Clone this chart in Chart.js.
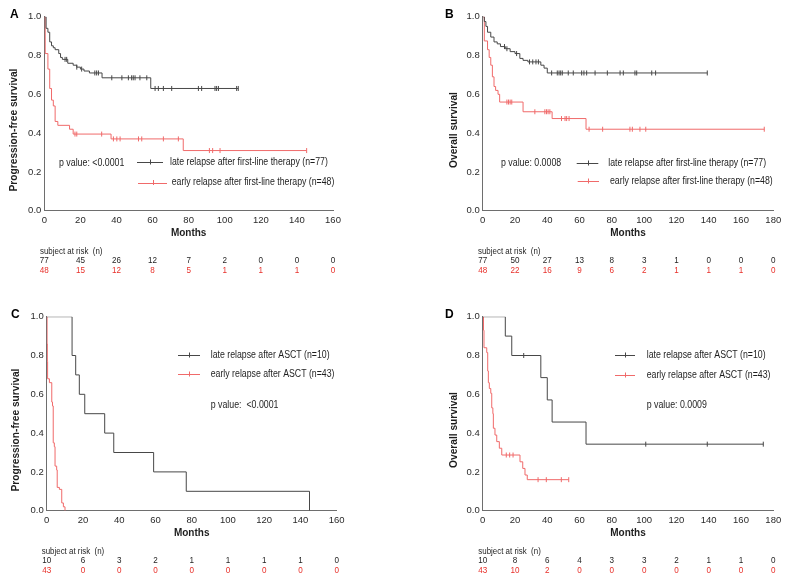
<!DOCTYPE html>
<html lang="en">
<head>
  <meta charset="UTF-8">
  <title>Survival by relapse timing</title>
  <script src="https://cdn.jsdelivr.net/npm/chart.js"></script>
  <style>
    body { margin: 0; background: #fff; }
    #wrap { position: relative; width: 790px; height: 583px; }
    canvas { position: absolute; }
  </style>
</head>
<body>
<div id="wrap">
  <canvas id="chartA" width="395" height="290" style="left:0;top:0"></canvas>
  <canvas id="chartB" width="395" height="290" style="left:395px;top:0"></canvas>
  <canvas id="chartC" width="395" height="283" style="left:0;top:300px"></canvas>
  <canvas id="chartD" width="395" height="283" style="left:395px;top:300px"></canvas>
</div>

<script>
  // x-axis ticks (months)
  const monthTicks160 = [0, 20, 40, 60, 80, 100, 120, 140, 160];
  const monthTicks180 = [0, 20, 40, 60, 80, 100, 120, 140, 160, 180];

  // A - PFS, first-line therapy
  const aLateT = [0, 1, 2, 3, 4, 5, 6, 8, 9, 10, 13, 16, 18, 20, 22, 25, 32, 59];
  const aLateS = [1, 0.94, 0.92, 0.87, 0.85, 0.84, 0.83, 0.81, 0.79, 0.78, 0.76, 0.75, 0.74, 0.73, 0.72, 0.71, 0.685, 0.63];
  const aLateCens = [11.5, 12.4, 18, 20.7, 28, 29, 30, 37.4, 43, 46.6, 48.4, 49.3, 50.3, 53, 56.8, 61.4, 63.2, 66, 70.6, 85.4, 87.2, 94.6, 95.5, 96.5, 106.6, 107.5];
  const aEarlyT = [0, 0.5, 2, 3, 4, 5, 6, 7.5, 14, 16, 37, 77];
  const aEarlyS = [1, 0.81, 0.73, 0.63, 0.57, 0.54, 0.46, 0.44, 0.42, 0.395, 0.37, 0.31];
  const aEarlyCens = [17, 18, 31.8, 38.3, 40.2, 42, 52.2, 54, 66, 74.3, 91.5, 93.3, 97.4, 145.4];
  const aRiskLate = [77, 45, 26, 12, 7, 2, 0, 0, 0];
  const aRiskEarly = [48, 15, 12, 8, 5, 1, 1, 1, 0];

  // B - OS, first-line therapy
  const bLateT = [0, 1, 2, 3, 5, 7, 9, 11, 14, 17, 20, 23, 25, 28, 36, 38, 40];
  const bLateS = [1, 0.975, 0.95, 0.92, 0.895, 0.87, 0.86, 0.846, 0.835, 0.82, 0.81, 0.785, 0.775, 0.767, 0.75, 0.735, 0.71];
  const bLateCens = [13.5, 15, 21, 29, 31, 33, 34.5, 42.7, 46.2, 47.3, 48.3, 49.3, 53, 56.1, 61.3, 62.7, 64.4, 69.6, 77.2, 85.1, 87.1, 94.3, 95.4, 104.7, 107.1, 139.1];
  const bEarlyT = [0, 1, 3, 4, 5, 6, 7, 8, 9.5, 10.5, 25, 43, 64];
  const bEarlyS = [1, 0.875, 0.83, 0.79, 0.75, 0.69, 0.64, 0.62, 0.6, 0.56, 0.51, 0.475, 0.42];
  const bEarlyCens = [15, 16, 17, 18, 32.3, 38.5, 39.5, 40.5, 41.6, 48.8, 51, 52, 53.5, 65.9, 74.3, 91.2, 92.7, 97.4, 101, 174.4];
  const bRiskLate = [77, 50, 27, 13, 8, 3, 1, 0, 0, 0];
  const bRiskEarly = [48, 22, 16, 9, 6, 2, 1, 1, 1, 0];

  // C - PFS, ASCT
  const cLateT = [0, 14, 16, 18, 21, 32, 37, 59, 77, 145];
  const cLateS = [1, 0.8, 0.7, 0.6, 0.5, 0.4, 0.3, 0.2, 0.1, 0];
  const cLateCens = [];
  const cEarlyT = [0, 0.2, 0.35, 0.5, 1.5, 2.8, 3.2, 3.6, 4.2, 4.6, 5.5, 5.8, 7, 8.3, 9.2, 10.1];
  const cEarlyS = [1, 0.86, 0.77, 0.68, 0.66, 0.56, 0.54, 0.35, 0.33, 0.23, 0.21, 0.12, 0.11, 0.04, 0.02, 0];
  const cEarlyCens = [];
  const cRiskLate = [10, 6, 3, 2, 1, 1, 1, 1, 0];
  const cRiskEarly = [43, 0, 0, 0, 0, 0, 0, 0, 0];

  // D - OS, ASCT
  const dLateT = [0, 14, 18, 36, 40, 43, 64];
  const dLateS = [1, 0.9, 0.8, 0.686, 0.571, 0.457, 0.343];
  const dLateCens = [25.4, 101, 139.1, 173.8];
  const dEarlyT = [0, 0.5, 0.8, 2.5, 3.1, 3.5, 4.1, 5, 5.6, 6.3, 6.6, 7.6, 8.7, 10.3, 11.8, 23.1, 24.8, 26.2, 27.6];
  const dEarlyS = [1, 0.93, 0.84, 0.815, 0.72, 0.66, 0.63, 0.605, 0.53, 0.5, 0.425, 0.39, 0.356, 0.322, 0.287, 0.252, 0.218, 0.184, 0.16];
  const dEarlyCens = [14.6, 16.7, 18.8, 34.3, 39.4, 48.7, 53.3];
  const dRiskLate = [10, 8, 6, 4, 3, 3, 2, 1, 1, 0];
  const dRiskEarly = [43, 10, 2, 0, 0, 0, 0, 0, 0, 0];

  const FONT = '"Liberation Sans", Arial, Helvetica, sans-serif';
  const GREY_LINE = '#474747';
  const RED_LINE = '#f06a6a';
  const RED_TEXT = '#e8302a';
  const AXIS = '#6e6e6e';
  const TEXT = '#1e1e1e';

  function survivalAt(t, T, S) {
    let s = 1;
    for (let i = 0; i < T.length; i++) if (T[i] <= t) s = S[i];
    return s;
  }

  function kmPoints(T, S, cens) {
    const pts = T.map((t, i) => ({ x: t, y: S[i] }));
    const last = T[T.length - 1];
    const end = cens.length ? Math.max(last, ...cens) : last;
    if (end > last) pts.push({ x: end, y: S[S.length - 1] });
    return pts;
  }

  function censorPoints(T, S, cens) {
    return cens.map(t => ({ x: t, y: survivalAt(t, T, S) }));
  }

  function label(ctx, s, x, y, size, o) {
    o = o || {};
    ctx.save();
    ctx.font = (o.bold ? 'bold ' : '') + size + 'px ' + FONT;
    ctx.fillStyle = o.color || TEXT;
    ctx.textBaseline = 'middle';
    ctx.textAlign = o.align || 'left';
    ctx.translate(x, y);
    if (o.rot) ctx.rotate(o.rot);
    ctx.scale(o.sx || 1, 1);
    ctx.fillText(s, 0, 0);
    ctx.restore();
  }

  function legendItem(ctx, leg, color, txt) {
    const [x1, x2, y, tx] = leg;
    ctx.save();
    ctx.strokeStyle = color;
    ctx.lineWidth = 1;
    ctx.beginPath();
    ctx.moveTo(x1, Math.round(y) + 0.5);
    ctx.lineTo(x2, Math.round(y) + 0.5);
    const mx = Math.round((x1 + x2) / 2) + 0.5;
    ctx.moveTo(mx, y - 2.5);
    ctx.lineTo(mx, y + 2.5);
    ctx.stroke();
    ctx.restore();
    label(ctx, txt, tx, y, 10, { sx: 0.875 });
  }

  function panelText(p) {
    return {
      id: 'panelText',
      afterDraw(chart) {
        const ctx = chart.ctx;
        const xs = chart.scales.x;
        const area = chart.chartArea;
        label(ctx, p.letter, p.letterX, 15, 12, { bold: true, color: '#000' });
        label(ctx, p.yTitle, p.yTitleX, 130, 10.2, { bold: true, align: 'center', rot: -Math.PI / 2 });
        label(ctx, 'Months', (area.left + area.right) / 2, 233.3, 10, { bold: true, align: 'center' });
        label(ctx, 'subject at risk  (n)', p.riskX, 251.2, 9, { sx: 0.88 });
        p.ticks.forEach((m, i) => {
          const x = xs.getPixelForValue(m);
          label(ctx, String(p.riskLate[i]), x, 261, 9, { align: 'center', sx: 0.9 });
          label(ctx, String(p.riskEarly[i]), x, 270.7, 9, { align: 'center', sx: 0.9, color: RED_TEXT });
        });
        legendItem(ctx, p.legLate, GREY_LINE, p.lateText);
        legendItem(ctx, p.legEarly, RED_LINE, p.earlyText);
        label(ctx, p.pText, p.pPos[0], p.pPos[1], 10, { sx: 0.88 });
      }
    };
  }

  function makePanel(id, p) {
    const tickFont = { family: FONT, size: 9.5 };
    new Chart(document.getElementById(id), {
      type: 'scatter',
      data: {
        datasets: [
          { data: kmPoints(p.late.T, p.late.S, p.late.cens), showLine: true, stepped: 'before',
            borderColor: GREY_LINE, borderWidth: 1, pointRadius: 0, fill: false },
          { data: kmPoints(p.early.T, p.early.S, p.early.cens), showLine: true, stepped: 'before',
            borderColor: RED_LINE, borderWidth: 1, pointRadius: 0, fill: false },
          { data: censorPoints(p.late.T, p.late.S, p.late.cens), showLine: false,
            pointStyle: 'line', rotation: 90, pointRadius: 2.5, borderColor: GREY_LINE, borderWidth: 1 },
          { data: censorPoints(p.early.T, p.early.S, p.early.cens), showLine: false,
            pointStyle: 'line', rotation: 90, pointRadius: 2.5, borderColor: RED_LINE, borderWidth: 1 }
        ]
      },
      options: {
        responsive: false,
        animation: false,
        devicePixelRatio: 1,
        events: [],
        layout: { padding: { top: 16.7, right: p.rightPad, left: 0, bottom: 0 } },
        plugins: { legend: { display: false }, tooltip: { enabled: false } },
        scales: {
          x: {
            type: 'linear', min: 0, max: p.xMax,
            afterFit: s => { s.height = p.xAxisH; },
            grid: { display: false, drawTicks: false },
            border: { display: true, color: AXIS, width: 1 },
            ticks: { stepSize: 20, padding: 4, color: '#2a2a2a', font: tickFont, maxRotation: 0, autoSkip: false }
          },
          y: {
            min: 0, max: 1,
            afterFit: s => { s.width = p.yAxisW; },
            grid: { display: false, drawTicks: false },
            border: { display: true, color: AXIS, width: 1 },
            ticks: { stepSize: 0.2, padding: 3, color: '#2a2a2a', font: tickFont, callback: v => v.toFixed(1) }
          }
        }
      },
      plugins: [panelText(p)]
    });
  }

  makePanel('chartA', {
    letter: 'A', letterX: 10, yTitle: 'Progression-free survival', yTitleX: 14,
    xMax: 160, ticks: monthTicks160, yAxisW: 44.3, rightPad: 62, xAxisH: 79.3,
    late: { T: aLateT, S: aLateS, cens: aLateCens }, early: { T: aEarlyT, S: aEarlyS, cens: aEarlyCens },
    riskLate: aRiskLate, riskEarly: aRiskEarly, riskX: 40,
    legLate: [137, 163, 162, 170], legEarly: [138, 167, 182.5, 171.7],
    lateText: 'late relapse after first-line therapy (n=77)',
    earlyText: 'early relapse after first-line therapy (n=48)',
    pText: 'p value: <0.0001', pPos: [59, 163]
  });

  makePanel('chartB', {
    letter: 'B', letterX: 50, yTitle: 'Overall survival', yTitleX: 59,
    xMax: 180, ticks: monthTicks180, yAxisW: 87.7, rightPad: 16.7, xAxisH: 79.3,
    late: { T: bLateT, S: bLateS, cens: bLateCens }, early: { T: bEarlyT, S: bEarlyS, cens: bEarlyCens },
    riskLate: bRiskLate, riskEarly: bRiskEarly, riskX: 83,
    legLate: [181.7, 203.3, 163, 213.3], legEarly: [182.7, 204, 181, 215],
    lateText: 'late relapse after first-line therapy (n=77)',
    earlyText: 'early relapse after first-line therapy (n=48)',
    pText: 'p value: 0.0008', pPos: [106, 163]
  });

  makePanel('chartC', {
    letter: 'C', letterX: 11, yTitle: 'Progression-free survival', yTitleX: 16,
    xMax: 160, ticks: monthTicks160, yAxisW: 46.7, rightPad: 58.3, xAxisH: 72.3,
    late: { T: cLateT, S: cLateS, cens: cLateCens }, early: { T: cEarlyT, S: cEarlyS, cens: cEarlyCens },
    riskLate: cRiskLate, riskEarly: cRiskEarly, riskX: 41.7,
    legLate: [178, 200, 55, 210.7], legEarly: [178, 200, 74, 210.7],
    lateText: 'late relapse after ASCT (n=10)',
    earlyText: 'early relapse after ASCT (n=43)',
    pText: 'p value:  <0.0001', pPos: [210.7, 105.7]
  });

  makePanel('chartD', {
    letter: 'D', letterX: 50, yTitle: 'Overall survival', yTitleX: 59,
    xMax: 180, ticks: monthTicks180, yAxisW: 87.7, rightPad: 16.7, xAxisH: 72.3,
    late: { T: dLateT, S: dLateS, cens: dLateCens }, early: { T: dEarlyT, S: dEarlyS, cens: dEarlyCens },
    riskLate: dRiskLate, riskEarly: dRiskEarly, riskX: 83.3,
    legLate: [220, 240, 55, 251.7], legEarly: [220, 240, 75, 251.7],
    lateText: 'late relapse after ASCT (n=10)',
    earlyText: 'early relapse after ASCT (n=43)',
    pText: 'p value: 0.0009', pPos: [251.7, 105]
  });
</script>
</body>
</html>
